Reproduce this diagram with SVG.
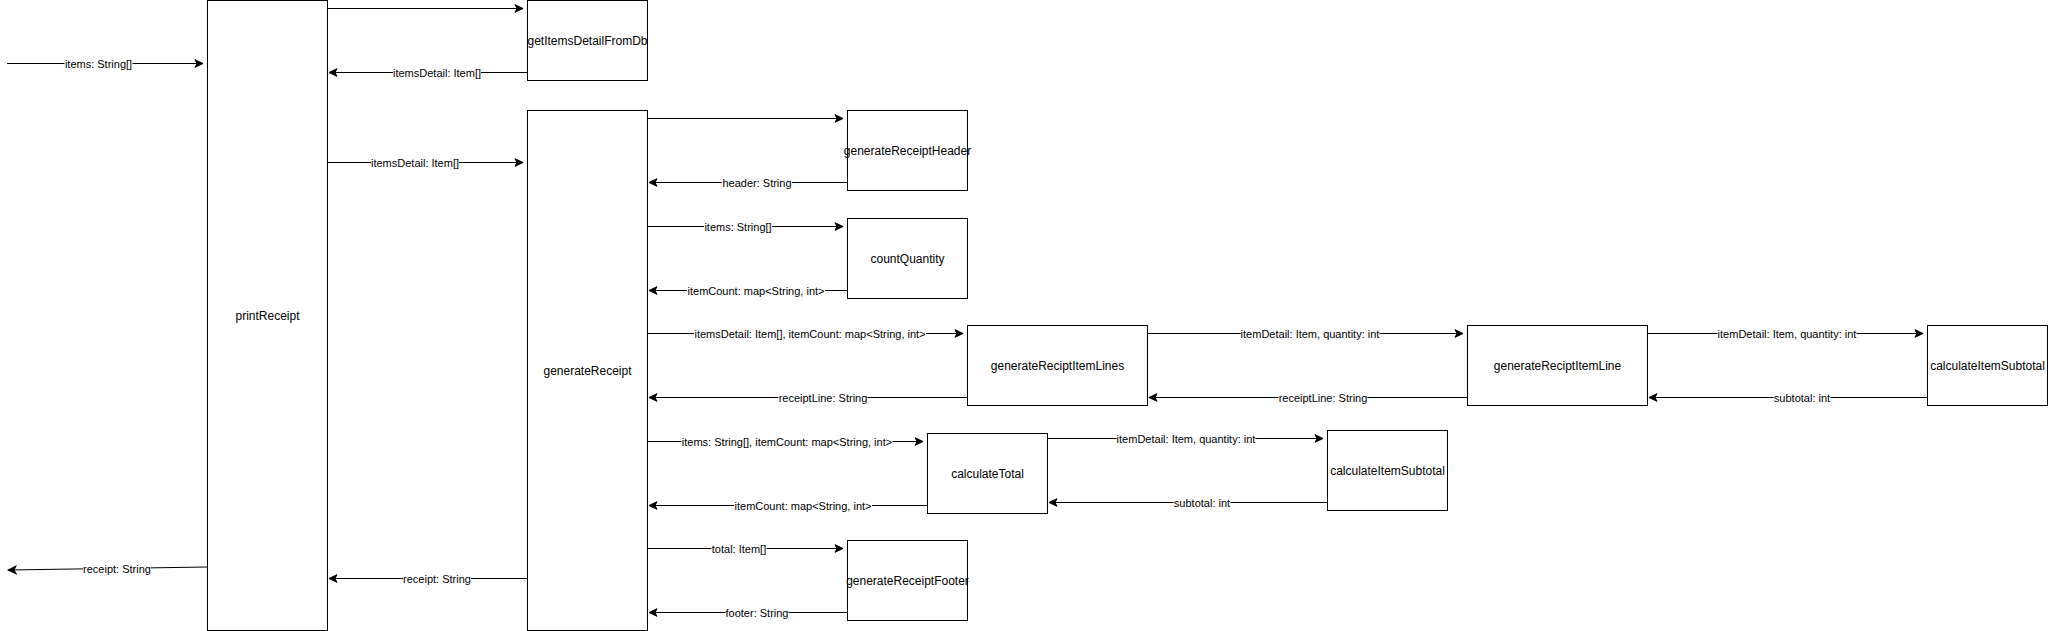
<svg xmlns="http://www.w3.org/2000/svg" width="2068" height="631" viewBox="0 0 2068 631">
<style>
.box{fill:#fff;stroke:#000;stroke-width:1}
.nt{font-family:"Liberation Sans",Arial,Helvetica,sans-serif;font-size:12px;fill:#000;text-anchor:middle}
.e{fill:none;stroke:#000;stroke-width:1;marker-end:url(#arr)}
.lb{fill:#fff}
.lt{font-family:"Liberation Sans",Arial,Helvetica,sans-serif;font-size:11px;fill:#000;text-anchor:middle}
</style>
<defs>
<marker id="arr" viewBox="-9 -5 10 10" markerWidth="10" markerHeight="10" refX="0" refY="0" orient="auto" markerUnits="userSpaceOnUse">
<path d="M0,0 L-8,-3.8 L-6,0 L-8,3.8 Z" fill="#000" stroke="#000" stroke-width="1" stroke-linejoin="miter"/>
</marker>
</defs>
<rect width="2068" height="631" fill="#fff"/>

<g id="connectors">
<line class="e" x1="7" y1="63.5" x2="203" y2="63.5"/>
<line class="e" x1="327.5" y1="8.5" x2="523" y2="8.5"/>
<line class="e" x1="527.5" y1="72.5" x2="329" y2="72.5"/>
<line class="e" x1="327.5" y1="162.5" x2="523" y2="162.5"/>
<line class="e" x1="647.5" y1="118.5" x2="843" y2="118.5"/>
<line class="e" x1="847.5" y1="182.5" x2="649" y2="182.5"/>
<line class="e" x1="647.5" y1="226.5" x2="843" y2="226.5"/>
<line class="e" x1="847.5" y1="290.5" x2="649" y2="290.5"/>
<line class="e" x1="647.5" y1="333.5" x2="963" y2="333.5"/>
<line class="e" x1="967.5" y1="397.5" x2="649" y2="397.5"/>
<line class="e" x1="1147.5" y1="333.5" x2="1463" y2="333.5"/>
<line class="e" x1="1467.5" y1="397.5" x2="1149" y2="397.5"/>
<line class="e" x1="1647.5" y1="333.5" x2="1923" y2="333.5"/>
<line class="e" x1="1927.5" y1="397.5" x2="1649" y2="397.5"/>
<line class="e" x1="647.5" y1="441.5" x2="923" y2="441.5"/>
<line class="e" x1="927.5" y1="505.5" x2="649" y2="505.5"/>
<line class="e" x1="1047.5" y1="438.5" x2="1323" y2="438.5"/>
<line class="e" x1="1327.5" y1="502.5" x2="1049" y2="502.5"/>
<line class="e" x1="647.5" y1="548.5" x2="843" y2="548.5"/>
<line class="e" x1="847.5" y1="612.5" x2="649" y2="612.5"/>
<line class="e" x1="527.5" y1="578.5" x2="329" y2="578.5"/>
<line class="e" x1="207.5" y1="567" x2="8" y2="570"/>

<rect class="lb" x="64.5" y="57" width="68" height="13"/>
<text class="lt" x="98.5" y="67.5">items: String[]</text>
<rect class="lb" x="393" y="66" width="88" height="13"/>
<text class="lt" x="437" y="76.5">itemsDetail: Item[]</text>
<rect class="lb" x="371" y="156" width="88" height="13"/>
<text class="lt" x="415" y="166.5">itemsDetail: Item[]</text>
<rect class="lb" x="722" y="176" width="70" height="13"/>
<text class="lt" x="757" y="186.5">header: String</text>
<rect class="lb" x="704" y="220" width="68" height="13"/>
<text class="lt" x="738" y="230.5">items: String[]</text>
<rect class="lb" x="687" y="284" width="138" height="13"/>
<text class="lt" x="756" y="294.5">itemCount: map&lt;String, int&gt;</text>
<rect class="lb" x="694" y="327" width="232" height="13"/>
<text class="lt" x="810" y="337.5">itemsDetail: Item[], itemCount: map&lt;String, int&gt;</text>
<rect class="lb" x="778.5" y="391" width="89" height="13"/>
<text class="lt" x="823" y="401.5">receiptLine: String</text>
<rect class="lb" x="1240.5" y="327" width="139" height="13"/>
<text class="lt" x="1310" y="337.5">itemDetail: Item, quantity: int</text>
<rect class="lb" x="1278.5" y="391" width="89" height="13"/>
<text class="lt" x="1323" y="401.5">receiptLine: String</text>
<rect class="lb" x="1717.5" y="327" width="139" height="13"/>
<text class="lt" x="1787" y="337.5">itemDetail: Item, quantity: int</text>
<rect class="lb" x="1773.5" y="391" width="57" height="13"/>
<text class="lt" x="1802" y="401.5">subtotal: int</text>
<rect class="lb" x="681.5" y="435" width="211" height="13"/>
<text class="lt" x="787" y="445.5">items: String[], itemCount: map&lt;String, int&gt;</text>
<rect class="lb" x="734" y="499" width="138" height="13"/>
<text class="lt" x="803" y="509.5">itemCount: map&lt;String, int&gt;</text>
<rect class="lb" x="1116.5" y="432" width="139" height="13"/>
<text class="lt" x="1186" y="442.5">itemDetail: Item, quantity: int</text>
<rect class="lb" x="1173.5" y="496" width="57" height="13"/>
<text class="lt" x="1202" y="506.5">subtotal: int</text>
<rect class="lb" x="711.5" y="542" width="55" height="13"/>
<text class="lt" x="739" y="552.5">total: Item[]</text>
<rect class="lb" x="725.5" y="606" width="63" height="13"/>
<text class="lt" x="757" y="616.5">footer: String</text>
<rect class="lb" x="403" y="572" width="68" height="13"/>
<text class="lt" x="437" y="582.5">receipt: String</text>
<rect class="lb" x="83" y="562" width="68" height="13"/>
<text class="lt" x="117" y="572.5">receipt: String</text>
</g>

<g id="printReceipt"><rect class="box" x="207.5" y="0.5" width="120" height="630"/><text class="nt" x="267.5" y="319.5">printReceipt</text></g>
<g id="getItemsDetailFromDb"><rect class="box" x="527.5" y="0.5" width="120" height="80"/><text class="nt" x="587.5" y="44.5">getItemsDetailFromDb</text></g>
<g id="generateReceipt"><rect class="box" x="527.5" y="110.5" width="120" height="520"/><text class="nt" x="587.5" y="374.5">generateReceipt</text></g>
<g id="generateReceiptHeader"><rect class="box" x="847.5" y="110.5" width="120" height="80"/><text class="nt" x="907.5" y="154.5">generateReceiptHeader</text></g>
<g id="countQuantity"><rect class="box" x="847.5" y="218.5" width="120" height="80"/><text class="nt" x="907.5" y="262.5">countQuantity</text></g>
<g id="generateReciptItemLines"><rect class="box" x="967.5" y="325.5" width="180" height="80"/><text class="nt" x="1057.5" y="369.5">generateReciptItemLines</text></g>
<g id="generateReciptItemLine"><rect class="box" x="1467.5" y="325.5" width="180" height="80"/><text class="nt" x="1557.5" y="369.5">generateReciptItemLine</text></g>
<g id="calculateItemSubtotal1"><rect class="box" x="1927.5" y="325.5" width="120" height="80"/><text class="nt" x="1987.5" y="369.5">calculateItemSubtotal</text></g>
<g id="calculateTotal"><rect class="box" x="927.5" y="433.5" width="120" height="80"/><text class="nt" x="987.5" y="477.5">calculateTotal</text></g>
<g id="calculateItemSubtotal2"><rect class="box" x="1327.5" y="430.5" width="120" height="80"/><text class="nt" x="1387.5" y="474.5">calculateItemSubtotal</text></g>
<g id="generateReceiptFooter"><rect class="box" x="847.5" y="540.5" width="120" height="80"/><text class="nt" x="907.5" y="584.5">generateReceiptFooter</text></g>
</svg>
